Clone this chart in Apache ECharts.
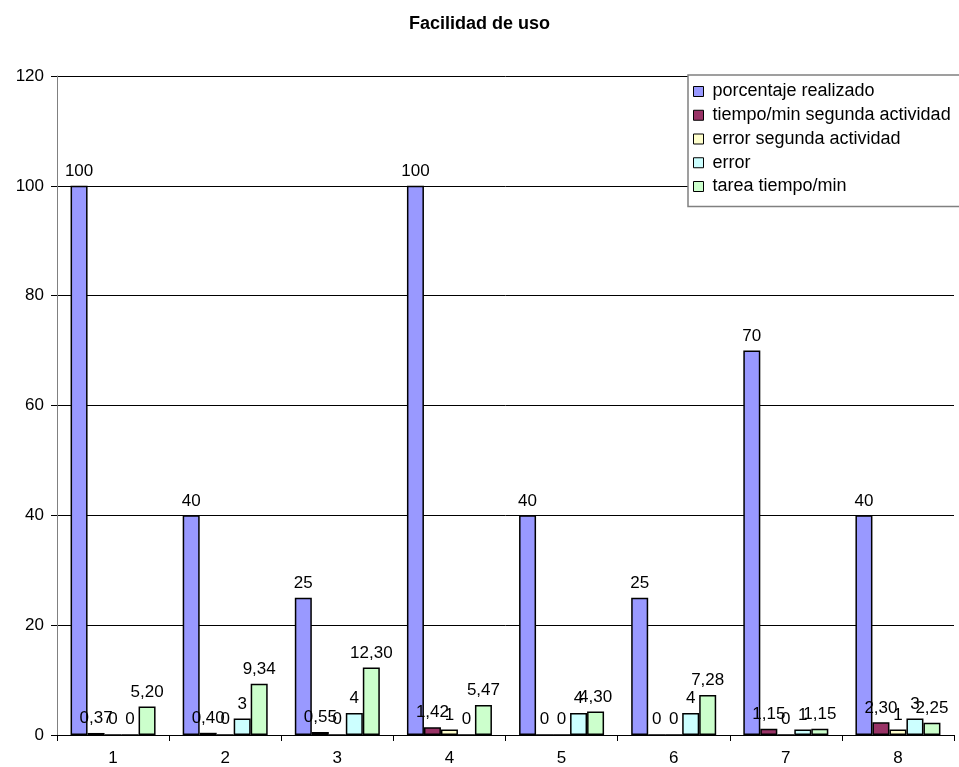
<!DOCTYPE html>
<html>
<head>
<meta charset="utf-8">
<script src="https://cdn.jsdelivr.net/npm/echarts@6/dist/echarts.min.js"></script>
<style>
  html, body { margin: 0; padding: 0; background: #fff; }
  #chart { width: 959px; height: 767px; }
</style>
</head>
<body>
<div id="chart"></div>
<script>
// Usability results per participant
const categories = ['1', '2', '3', '4', '5', '6', '7', '8'];
const seriesNames = [
  'porcentaje realizado',
  'tiempo/min segunda actividad',
  'error segunda actividad',
  'error',
  'tarea tiempo/min'
];
const porcentajeRealizado = [100, 40, 25, 100, 40, 25, 70, 40];
const tiempoSegunda      = [0.37, 0.40, 0.55, 1.42, 0, 0, 1.15, 2.30];
const errorSegunda       = [0, 0, 0, 1, 0, 0, 0, 1];
const errorTarea         = [0, 3, 4, 0, 4, 4, 1, 3];
const tareaTiempo        = [5.20, 9.34, 12.30, 5.47, 4.30, 7.28, 1.15, 2.25];
const yTicks = { min: 0, max: 120, interval: 20 };

const colors = ['#9999FF', '#993366', '#FFFFCC', '#CCFFFF', '#CCFFCC'];
const values = [porcentajeRealizado, tiempoSegunda, errorSegunda, errorTarea, tareaTiempo];

const FONT = '"Liberation Sans", Arial, sans-serif';

// Decimal comma; whole numbers shown without decimals
function fmt(v) {
  if (Number.isInteger(v)) return String(v);
  return v.toFixed(2).replace('.', ',');
}

const chart = echarts.init(document.getElementById('chart'), null, { renderer: 'canvas' });

chart.setOption({
  animation: false,
  backgroundColor: '#ffffff',
  title: {
    text: 'Facilidad de uso',
    left: 'center',
    top: 10,
    textStyle: { fontFamily: FONT, fontSize: 18, fontWeight: 'bold', color: '#000' }
  },
  legend: {
    orient: 'vertical',
    left: 688,
    top: 75,
    padding: [7.5, 40, 11, 5],
    itemGap: 5.75,
    itemWidth: 10,
    itemHeight: 10,
    icon: 'rect',
    backgroundColor: '#ffffff',
    borderColor: '#808080',
    borderWidth: 1.5,
    borderRadius: 0,
    textStyle: { fontFamily: FONT, fontSize: 18, color: '#000', padding: [0, 0, 0, 4] },
    itemStyle: { borderColor: '#000', borderWidth: 1 },
    data: seriesNames
  },
  grid: { left: 57, right: 5, top: 76, bottom: 32, containLabel: false },
  xAxis: {
    type: 'category',
    data: categories,
    boundaryGap: true,
    axisLine: { lineStyle: { color: '#000', width: 1 } },
    axisTick: { show: true, alignWithLabel: false, length: 6, lineStyle: { color: '#000' } },
    axisLabel: { fontFamily: FONT, fontSize: 17, color: '#000', margin: 15 },
    splitLine: { show: false }
  },
  yAxis: {
    type: 'value',
    min: yTicks.min,
    max: yTicks.max,
    interval: yTicks.interval,
    axisLine: { show: true, lineStyle: { color: '#808080', width: 1 } },
    axisTick: { show: true, length: 6, lineStyle: { color: '#000' } },
    axisLabel: { fontFamily: FONT, fontSize: 17, color: '#000', margin: 13 },
    splitLine: { show: true, lineStyle: { color: '#000', width: 1 } }
  },
  series: seriesNames.map((name, i) => ({
    name: name,
    type: 'bar',
    data: values[i],
    barWidth: 17,
    barGap: '0%',
    itemStyle: { color: colors[i], borderColor: '#000', borderWidth: 1.5 },
    label: {
      show: true,
      position: 'top',
      distance: 6,
      fontFamily: FONT,
      fontSize: 17,
      color: '#000',
      formatter: p => fmt(p.value)
    },
    z: 2
  }))
});
</script>
</body>
</html>
